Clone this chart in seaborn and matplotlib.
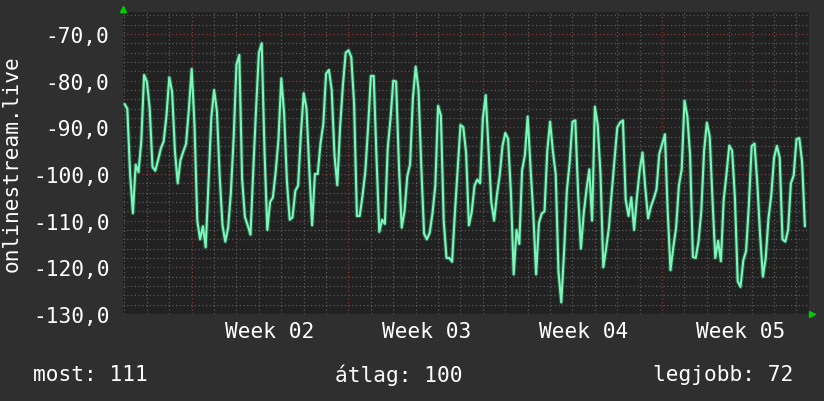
import numpy as np
import pandas as pd
import matplotlib
matplotlib.use("Agg")
import matplotlib.pyplot as plt
import seaborn as sns

# ---- data (3-hour samples, days relative to start of Week 02) ----
start_day = -3.0
step_days = 0.125
values = [
    -85, -86, -100, -108.4, -98, -99.6, -93, -78.8, -80.2, -86,
    -98.5, -99.3, -97, -94.5, -93, -87.4, -79.3, -82.4, -95, -102,
    -97, -95.2, -93.5, -86, -77.5, -89.5, -110, -114, -111.2, -115.7,
    -102, -88, -82, -86.5, -100.5, -111, -114.5, -111.5, -104, -92,
    -76.5, -74.5, -101, -109.2, -111, -113, -99, -86, -74, -72,
    -95, -112, -106, -105, -99.5, -92.5, -79.5, -87, -101.5, -109.8,
    -109.3, -103.6, -102.5, -91.5, -82.7, -86, -99, -111, -100, -100,
    -93.5, -89.3, -78.5, -77.7, -82, -96, -102.4, -90, -81, -74,
    -73.5, -75, -85, -109, -109, -104.7, -99.5, -90, -79, -79,
    -96.5, -112.4, -109.8, -110.7, -94.5, -88.2, -80, -80.2, -98, -111.5,
    -108, -100.5, -97.9, -83.7, -77, -82, -98.5, -112.8, -114, -112.6,
    -108.4, -102.5, -85.4, -87.5, -110, -118, -118, -118.8, -108.3, -99,
    -89.5, -90, -95.5, -111, -108.2, -102.5, -101.2, -102, -88, -83.1,
    -94.5, -106, -110, -104.5, -100.3, -94, -91.2, -92.5, -104, -121.5,
    -112, -115, -99.2, -96, -87.7, -98.5, -108.5, -121.5, -110.5, -108.5,
    -108, -95, -88.8, -95.2, -100, -121, -127.5, -116.5, -103.5, -97.5,
    -88.8, -88.5, -104, -116, -108.5, -103.3, -99, -110, -85.6, -89.5,
    -100, -120, -116, -111.5, -104, -97, -90, -89, -88.5, -105.5,
    -109, -105, -112, -105, -99.2, -95.4, -103, -109.5, -107, -105.3,
    -103.3, -95.7, -93.6, -91.5, -108, -120.6, -115.7, -111.5, -102.5, -99,
    -84.3, -87.6, -96, -117.8, -118, -114.5, -108, -95, -89, -92,
    -105.5, -118, -114.3, -118.7, -105.5, -100, -93.9, -95, -105, -123,
    -124.2, -118.5, -116.5, -106.5, -94, -93.5, -102, -113, -122, -118,
    -109.5, -104.5, -96.5, -94, -96.5, -114, -114.5, -112, -102, -100.3,
    -92.5, -92.3, -97.4, -111.2,
]
week_labels = ["Week 02", "Week 03", "Week 04", "Week 05"]
week_starts = [0, 7, 14, 21]
y_ticks = [-130, -120, -110, -100, -90, -80, -70]
y_label = "onlinestream.live"
summary = ["most: 111", "átlag: 100", "legjobb: 72"]

days = start_day + step_days * np.arange(len(values))
df = pd.DataFrame({"day": days, "value": values})

# ---- style ----
sns.set_style("dark")
plt.rcParams["font.family"] = ["DejaVu Sans Mono", "DejaVu Sans"]
FS = 15.2
BG = "#2f2f2f"
PLOT_BG = "#212121"
MINOR = "#5a5a5a"
MAJOR = "#843838"
LINE = "#7cf7bb"
TXT = "#ffffff"

W, H = 824, 402
fig = plt.figure(figsize=(W / 100, H / 100), dpi=100, facecolor=BG)
L, R, T, B = 123.5, 809.5, 13, 315
ax = fig.add_axes([L / W, 1 - B / H, (R - L) / W, (B - T) / H])
ax.set_facecolor(PLOT_BG)

xmin = -(191.7 - L) / 22.4
xmax = xmin + (R - L) / 22.4
ymin, ymax = -130, -130 + (B - T) / 4.667
ax.set_xlim(xmin, xmax)
ax.set_ylim(ymin, ymax)

dots = (0, (1, 2))
# horizontal grid
for v in np.arange(-130, ymax, 2):
    major = abs(v % 10) < 1e-9
    ax.axhline(v, color=MAJOR if major else MINOR, lw=0.9, ls=dots, zorder=1)
# vertical grid
for d in range(int(np.ceil(xmin)), int(np.floor(xmax)) + 1):
    major = d % 7 == 0
    ax.axvline(d, color=MAJOR if major else MINOR, lw=0.9, ls=dots, zorder=1)

# line with dark halo
sns.lineplot(data=df, x="day", y="value", ax=ax, color="#2c5e45", lw=3.0,
             zorder=3, legend=False)
sns.lineplot(data=df, x="day", y="value", ax=ax, color=LINE, lw=1.5,
             zorder=4, legend=False)

for s in ax.spines.values():
    s.set_visible(False)
ax.grid(False)

ax.set_yticks(y_ticks)
ax.set_yticklabels([f"{v},0" for v in y_ticks])
ax.set_xticks([w + 3.5 for w in week_starts])
ax.set_xticklabels(week_labels)
ax.tick_params(axis="both", length=0, colors=TXT, labelsize=FS)
ax.tick_params(axis="y", pad=10)
ax.tick_params(axis="x", pad=5)
ax.set_xlabel("")
ax.set_ylabel("")

# axis arrows
ax.plot([xmin], [ymax + 0.6], marker="^", color="#00cc00", ms=5, clip_on=False, zorder=6)
ax.plot([xmax + 0.12], [ymin], marker=">", color="#00cc00", ms=5, clip_on=False, zorder=6)

fig.text(12 / W, 1 - 164 / H, y_label, rotation=90, ha="center", va="center",
         color=TXT, fontsize=FS)
fig.text(33 / W, 1 - 375 / H, summary[0], ha="left", va="center", color=TXT, fontsize=FS)
fig.text(399 / W, 1 - 375 / H, summary[1], ha="center", va="center", color=TXT, fontsize=FS)
fig.text(793 / W, 1 - 375 / H, summary[2], ha="right", va="center", color=TXT, fontsize=FS)

fig.savefig("out.png", dpi=100, facecolor=BG)
